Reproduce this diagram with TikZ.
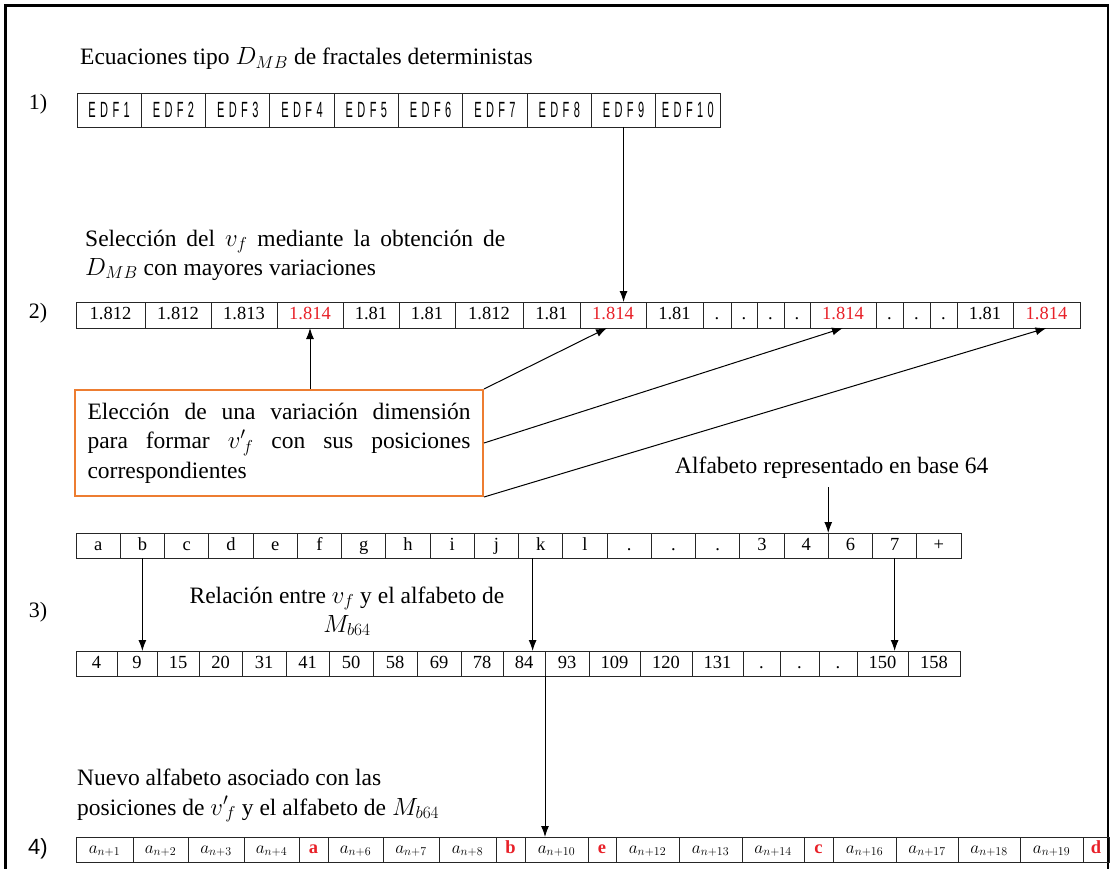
\documentclass[tikz,border=0pt]{standalone}
\usepackage{fontspec}
\setmainfont{Liberation Serif}
\newfontfamily\edffont[LetterSpace=40]{Liberation Sans}
\newfontfamily\labsans{Liberation Sans}
\usetikzlibrary{arrows.meta}

\definecolor{hlred}{RGB}{232,32,40}
\definecolor{boxorange}{RGB}{237,125,49}

\newcommand\edf[1]{\scalebox{0.5}[1]{\edffont #1}}
\newcommand\hl[1]{\textcolor{hlred}{#1}}
\newcommand\hlb[1]{\textcolor{hlred}{\bfseries #1}}
\newcommand\vpf{${v'}_{\!f}$}

% one row of adjacent cells: prefix, top y, bottom y, text style, list of left/right/content
\newcommand\cellrow[5]{%
  \pgfmathsetmacro\rowh{#3-#2}%
  \pgfmathsetmacro\rowc{(#2+#3)/2}%
  \foreach \xl/\xr/\txt [count=\ci] in {#5}{%
    \pgfmathsetmacro\cw{\xr-\xl}%
    \pgfmathsetmacro\cx{(\xl+\xr)/2}%
    \node[cell,#4,minimum width=\cw pt,minimum height=\rowh pt] (#1\ci) at (\cx,\rowc) {\txt};
  }}

\tikzset{
  cell/.style={draw=black!85,line width=0.9pt,inner sep=0pt,outer sep=0pt},
  numtext/.style={font=\fontsize{18.5}{20}\selectfont,text height=12.5pt,text depth=3.5pt},
  edftext/.style={font=\fontsize{22}{24}\selectfont,text height=16pt,text depth=0pt},
  symtext/.style={font=\fontsize{18.5}{20}\selectfont,text height=12pt,text depth=5pt},
  arr/.style={line width=1pt,-{Latex[length=11pt,width=8pt]}},
  txt/.style={inner sep=0pt,font=\fontsize{23.5}{28}\selectfont},
  lab/.style={inner sep=0pt,font=\fontsize{22}{26}\selectfont},
  obox/.style={draw=boxorange,line width=2pt,text width=383pt,align=justify,
    inner xsep=12.5pt,inner ysep=0pt,minimum height=106pt,
    font=\fontsize{23.5}{29.5}\selectfont}
}

\begin{document}
\begin{tikzpicture}[x=1pt,y=-1pt]
\useasboundingbox (0,0) rectangle (1113,869);
\clip (0,0) rectangle (1113,869);

% outer frame
\draw[line width=2.5pt] (5.5,880) -- (5.5,5.5) -- (1108,5.5) -- (1108,880);

% step 1
\node[txt,anchor=base west] (t1) at (80,65) {Ecuaciones tipo $D_{MB}$ de fractales deterministas};
\node[lab] (n1) at (38,104) {1)};
\cellrow{r1c}{93}{127}{edftext}{
  77/141.3/\edf{EDF1}, 141.3/205.6/\edf{EDF2}, 205.6/269.9/\edf{EDF3},
  269.9/334.2/\edf{EDF4}, 334.2/398.5/\edf{EDF5}, 398.5/462.8/\edf{EDF6},
  462.8/527.1/\edf{EDF7}, 527.1/591.4/\edf{EDF8}, 591.4/655.7/\edf{EDF9},
  655.7/720/\edf{EDF10}}

% step 2
\node[txt,anchor=base west] (t2a) at (85,246) {\makebox[420pt][s]{Selección del $v_f$ mediante la obtención de}};
\node[txt,anchor=base west] (t2b) at (85,275) {$D_{MB}$ con mayores variaciones};
\node[lab] (n2) at (38,313) {2)};
\cellrow{r2c}{302}{328}{numtext}{
  76/145/1.812, 145/211/1.812, 211/277/1.813, 277/343/\hl{1.814},
  343/399/1.81, 399/455/1.81, 455/523/1.812, 523/580/1.81,
  580/646/\hl{1.814}, 646/703/1.81, 703/731/., 731/757/., 757/784/.,
  784/810/., 810/876/\hl{1.814}, 876/903/., 903/930/., 930/957/.,
  957/1013/1.81, 1013/1080/\hl{1.814}}

\draw[arr] (r1c9.south) -- (r1c9.south |- r2c9.north);

\node[obox] (choice) at (279,443) {\hyphenpenalty=10000\relax
  Elección de una variación dimensión\linebreak para formar \vpf{} con sus posiciones\linebreak correspondientes};
\draw[arr] (r2c4.south |- choice.north) -- (r2c4.south);
\coordinate (r2tip9) at ([xshift=-6pt]r2c9.south);
\draw[arr] (choice.north east) -- (r2tip9);
\draw[arr] (choice.east) -- (r2c15.south);
\draw[arr] (choice.south east) -- (r2c20.south);

% step 3
\node[txt,anchor=base west] (alfa) at (675,473) {Alfabeto representado en base 64};
\coordinate (alfa-out) at ([yshift=-9pt]alfa.south);
\cellrow{r3a}{533}{558}{numtext}{
  76/120.25/a, 120.25/164.5/b, 164.5/208.75/c, 208.75/253/d, 253/297.25/e,
  297.25/341.5/f, 341.5/385.75/g, 385.75/430/h, 430/474.25/i, 474.25/518.5/j,
  518.5/562.75/k, 562.75/607/l, 607/651.25/., 651.25/695.5/., 695.5/739.75/.,
  739.75/784/3, 784/828.25/4, 828.25/872.5/6, 872.5/916.75/7, 916.75/961/+}
\draw[arr] (r3a17.north east |- alfa-out) -- (r3a17.north east);

\node[lab] (n3) at (38,612) {3)};
\node[txt,anchor=base] (t3a) at (347,603) {Relación entre $v_f$ y el alfabeto de};
\node[txt,anchor=base] (t3b) at (347,632) {$M_{b64}$};
\cellrow{r3b}{651}{676}{numtext}{
  76/117/4, 117/157/9, 157/199/15, 199/242/20, 242/286/31, 286/329/41,
  329/373/50, 373/417/58, 417/461/69, 461/503/78, 503/545/84, 545/589/93,
  589/640/109, 640/692/120, 692/743/131, 743/780/., 780/819/., 819/857/.,
  857/908/150, 908/960/158}
\draw[arr] (r3a2.south) -- (r3a2.south |- r3b2.north);
\coordinate (kfoot) at ([xshift=-8pt]r3a11.south);
\draw[arr] (kfoot) -- (kfoot |- r3b11.north);
\draw[arr] (r3a19.south) -- (r3a19.south |- r3b19.north);

% step 4
\node[txt,anchor=base west] (t4a) at (77,785) {Nuevo alfabeto asociado con las};
\node[txt,anchor=base west] (t4b) at (77,815) {posiciones de \vpf{} y el alfabeto de $M_{b64}$};
\node[lab,font=\labsans\fontsize{22}{26}\selectfont] (n4) at (38,849) {4)};
\cellrow{r4c}{837}{862}{symtext}{
  76/133/$a_{n+1}$, 133/188/$a_{n+2}$, 188/244/$a_{n+3}$, 244/299/$a_{n+4}$,
  299/328/\hlb{a}, 328/383/$a_{n+6}$, 383/439/$a_{n+7}$, 439/496/$a_{n+8}$,
  496/525/\hlb{b}, 525/588/$a_{n+10}$, 588/616/\hlb{e}, 616/679/$a_{n+12}$,
  679/742/$a_{n+13}$, 742/804/$a_{n+14}$, 804/833/\hlb{c}, 833/896/$a_{n+16}$,
  896/958/$a_{n+17}$, 958/1020/$a_{n+18}$, 1020/1083/$a_{n+19}$, 1083/1109/\hlb{d}}
\draw[arr] (r3b11.south east) -- (r3b11.south east |- r4c10.north);
\end{tikzpicture}
\end{document}
